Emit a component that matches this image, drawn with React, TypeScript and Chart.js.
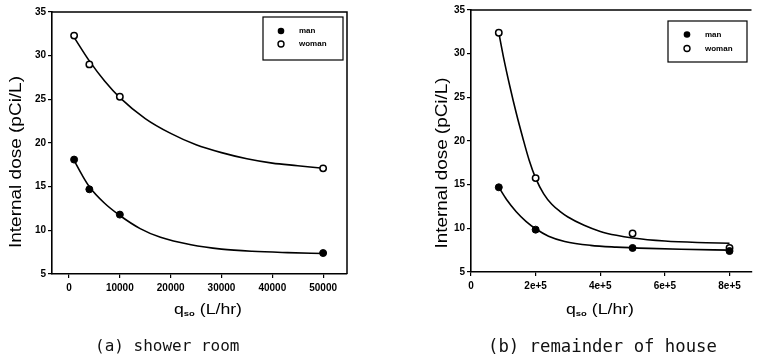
import React, { useEffect, useRef } from 'react';
import { Chart, registerables } from 'chart.js';
Chart.register(...registerables);

// (a) shower room
const showerFlow = [1000, 4000, 10000, 50000];
const showerMan = [18.1, 14.7, 11.8, 7.4];
const showerWoman = [32.3, 29.0, 25.3, 17.1];
const showerWomanFitX = [1000, 4000, 7000, 10000, 15000, 20000, 25000, 30000, 35000, 40000, 45000, 50000];
const showerWomanFit = [32.1, 29.4, 27.1, 25.2, 22.8, 21.1, 19.8, 18.9, 18.2, 17.7, 17.4, 17.1];
const showerManFitX = [1000, 2500, 4000, 7000, 10000, 14000, 18000, 24000, 30000, 36000, 43000, 50000];
const showerManFit = [18.0, 16.4, 15.0, 13.1, 11.7, 10.2, 9.2, 8.35, 7.85, 7.6, 7.45, 7.35];
const showerXTicks = [0, 10000, 20000, 30000, 40000, 50000];
const showerXLabels = ['0', '10000', '20000', '30000', '40000', '50000'];

// (b) remainder of house
const houseFlow = [86000, 200000, 500000, 800000];
const houseMan = [14.7, 9.85, 7.75, 7.4];
const houseWoman = [32.4, 15.75, 9.4, 7.75];
const houseWomanFitX = [86000, 100000, 120000, 140000, 160000, 180000, 200000, 225000, 250000, 275000, 300000, 350000, 400000, 450000, 500000, 600000, 700000, 800000];
const houseWomanFit = [32.4, 29.7, 26.3, 23.2, 20.4, 17.8, 15.75, 13.95, 12.75, 11.95, 11.3, 10.35, 9.65, 9.2, 8.9, 8.55, 8.38, 8.3];
const houseManFitX = [86000, 110000, 140000, 170000, 200000, 240000, 290000, 370000, 450000, 550000, 650000, 800000];
const houseManFit = [14.7, 13.3, 11.9, 10.8, 9.95, 9.1, 8.5, 8.05, 7.85, 7.7, 7.6, 7.5];
const houseXTicks = [0, 200000, 400000, 600000, 800000];
const houseXLabels = ['0', '2e+5', '4e+5', '6e+5', '8e+5'];

const yTicks = [5, 10, 15, 20, 25, 30, 35];
const yLabels = ['5', '10', '15', '20', '25', '30', '35'];
const legendLabels = ['man', 'woman'];
const yTitle = 'Internal dose (pCi/L)';
const xTitleMain = 'q';
const xTitleSub = 'so';
const xTitleUnit = ' (L/hr)';

const pts = (xs: number[], ys: number[]) => xs.map((x, i) => ({ x, y: ys[i] }));

type Panel = {
  xs: number[]; man: number[]; woman: number[];
  wfx: number[]; wf: number[]; mfx: number[]; mf: number[];
  xTicks: number[]; xLabels: string[];
  xmin: number; xmax: number;
  top: number; right: number; yw: number; xh: number;
  frameRight: boolean;
  legend: { x: number; y: number; w: number; h: number; mx: number; my: number[]; tx: number };
  yT: { x: number; y: number; len: number };
  xT: { x: number; y: number; len: number };
};

const FONT = '"Liberation Sans", Arial, sans-serif';

function framePlugin(p: Panel) {
  return {
    id: 'frameAndText',
    afterDraw(chart: any) {
      const { ctx, chartArea: a } = chart;
      ctx.save();
      ctx.strokeStyle = '#000';
      ctx.lineWidth = 1.5;
      ctx.beginPath();
      ctx.moveTo(a.left, a.top);
      ctx.lineTo(a.right, a.top);
      if (p.frameRight) ctx.lineTo(a.right, a.bottom);
      ctx.stroke();

      // legend
      const L = p.legend;
      ctx.lineWidth = 1.2;
      ctx.strokeRect(L.x, L.y, L.w, L.h);
      ctx.beginPath();
      ctx.arc(L.mx, L.my[0], 3.3, 0, Math.PI * 2);
      ctx.fillStyle = '#000';
      ctx.fill();
      ctx.beginPath();
      ctx.arc(L.mx, L.my[1], 3.0, 0, Math.PI * 2);
      ctx.fillStyle = '#fff';
      ctx.fill();
      ctx.lineWidth = 1.4;
      ctx.stroke();
      ctx.fillStyle = '#000';
      ctx.font = `bold 8px ${FONT}`;
      ctx.textAlign = 'left';
      ctx.textBaseline = 'middle';
      ctx.fillText(legendLabels[0], L.tx, L.my[0]);
      ctx.fillText(legendLabels[1], L.tx, L.my[1]);

      // y title
      ctx.save();
      ctx.translate(p.yT.x, p.yT.y);
      ctx.rotate(-Math.PI / 2);
      ctx.font = `16px ${FONT}`;
      const yw = ctx.measureText(yTitle).width;
      ctx.scale(p.yT.len / yw, 1);
      ctx.textAlign = 'center';
      ctx.textBaseline = 'middle';
      ctx.fillText(yTitle, 0, 0);
      ctx.restore();

      // x title with subscript
      ctx.save();
      ctx.font = `15px ${FONT}`;
      const w1 = ctx.measureText(xTitleMain).width;
      const w3 = ctx.measureText(xTitleUnit).width;
      ctx.font = `bold 8px ${FONT}`;
      const w2 = ctx.measureText(xTitleSub).width;
      const total = w1 + w2 + w3;
      ctx.translate(p.xT.x, p.xT.y);
      ctx.scale(p.xT.len / total, 1);
      ctx.textAlign = 'left';
      ctx.textBaseline = 'middle';
      ctx.font = `15px ${FONT}`;
      ctx.fillText(xTitleMain, 0, 0);
      ctx.font = `bold 8px ${FONT}`;
      ctx.fillText(xTitleSub, w1, 4);
      ctx.font = `15px ${FONT}`;
      ctx.fillText(xTitleUnit, w1 + w2, 0);
      ctx.restore();

      ctx.restore();
    },
  };
}

function makeConfig(p: Panel): any {
  const tickFont = { family: FONT, size: 10, weight: 'bold' as const };
  return {
    type: 'scatter',
    data: {
      datasets: [
        {
          data: pts(p.xs, p.man), showLine: false, pointRadius: 3.5,
          pointBackgroundColor: '#000', pointBorderColor: '#000', pointBorderWidth: 1,
        },
        {
          data: pts(p.xs, p.woman), showLine: false, pointRadius: 3.2,
          pointBackgroundColor: '#fff', pointBorderColor: '#000', pointBorderWidth: 1.5,
        },
        {
          data: pts(p.wfx, p.wf), showLine: true, pointRadius: 0, borderColor: '#000',
          borderWidth: 1.6, cubicInterpolationMode: 'monotone', fill: false,
        },
        {
          data: pts(p.mfx, p.mf), showLine: true, pointRadius: 0, borderColor: '#000',
          borderWidth: 1.6, cubicInterpolationMode: 'monotone', fill: false,
        },
      ],
    },
    options: {
      responsive: false,
      animation: false,
      layout: { padding: { left: 0, top: p.top, right: p.right, bottom: 0 } },
      plugins: { legend: { display: false }, tooltip: { enabled: false } },
      scales: {
        x: {
          type: 'linear', min: p.xmin, max: p.xmax,
          afterFit: (s: any) => { s.height = p.xh; },
          afterBuildTicks: (s: any) => { s.ticks = p.xTicks.map((v) => ({ value: v })); },
          ticks: {
            callback: (_v: any, i: number) => p.xLabels[i],
            font: tickFont, color: '#000', padding: 4, maxRotation: 0, autoSkip: false,
          },
          grid: { drawOnChartArea: false, drawTicks: true, tickLength: 4, color: '#000', lineWidth: 1.2 },
          border: { display: true, color: '#000', width: 1.6 },
        },
        y: {
          type: 'linear', min: 5, max: 35,
          afterFit: (s: any) => { s.width = p.yw; },
          afterBuildTicks: (s: any) => { s.ticks = yTicks.map((v) => ({ value: v })); },
          ticks: {
            callback: (_v: any, i: number) => yLabels[i],
            font: tickFont, color: '#000', padding: 2, autoSkip: false,
          },
          grid: { drawOnChartArea: false, drawTicks: true, tickLength: 4, color: '#000', lineWidth: 1.2 },
          border: { display: true, color: '#000', width: 1.6 },
        },
      },
    },
    plugins: [framePlugin(p)],
  };
}

const panelA: Panel = {
  xs: showerFlow, man: showerMan, woman: showerWoman,
  wfx: showerWomanFitX, wf: showerWomanFit, mfx: showerManFitX, mf: showerManFit,
  xTicks: showerXTicks, xLabels: showerXLabels,
  xmin: -3350, xmax: 54700,
  top: 12, right: 31, yw: 52, xh: 88, frameRight: true,
  legend: { x: 263, y: 17, w: 80, h: 43, mx: 281, my: [31, 44], tx: 299 },
  yT: { x: 17, y: 162, len: 172 },
  xT: { x: 174, y: 310, len: 68 },
};

const panelB: Panel = {
  xs: houseFlow, man: houseMan, woman: houseWoman,
  wfx: houseWomanFitX, wf: houseWomanFit, mfx: houseManFitX, mf: houseManFit,
  xTicks: houseXTicks, xLabels: houseXLabels,
  xmin: 0, xmax: 868000,
  top: 10, right: 0, yw: 93, xh: 90, frameRight: false,
  legend: { x: 290, y: 21, w: 79, h: 41, mx: 309, my: [34.5, 48.5], tx: 327 },
  yT: { x: 65, y: 163, len: 171 },
  xT: { x: 188, y: 310, len: 68 },
};

function ChartCanvas({ panel, left, width }: { panel: Panel; left: number; width: number }) {
  const ref = useRef<HTMLCanvasElement | null>(null);
  useEffect(() => {
    if (!ref.current) return;
    const c = new Chart(ref.current, makeConfig(panel));
    return () => c.destroy();
  }, [panel]);
  return (
    <canvas
      ref={ref}
      width={width}
      height={362}
      style={{ position: 'absolute', left, top: 0, width, height: 362 }}
    />
  );
}

export default function App() {
  const cap: React.CSSProperties = {
    position: 'absolute', top: 335, lineHeight: '22px', whiteSpace: 'pre',
    fontFamily: '"DejaVu Sans Mono", "Liberation Mono", monospace', color: '#111',
  };
  return (
    <div style={{ position: 'fixed', left: 0, top: 0, width: 757, height: 362, background: '#fff', overflow: 'hidden' }}>
      <ChartCanvas panel={panelA} left={0} width={378} />
      <ChartCanvas panel={panelB} left={378} width={379} />
      <div style={{ ...cap, left: 95, fontSize: 16 }}>(a) shower room</div>
      <div style={{ ...cap, left: 488, fontSize: 17.3 }}>(b) remainder of house</div>
    </div>
  );
}
